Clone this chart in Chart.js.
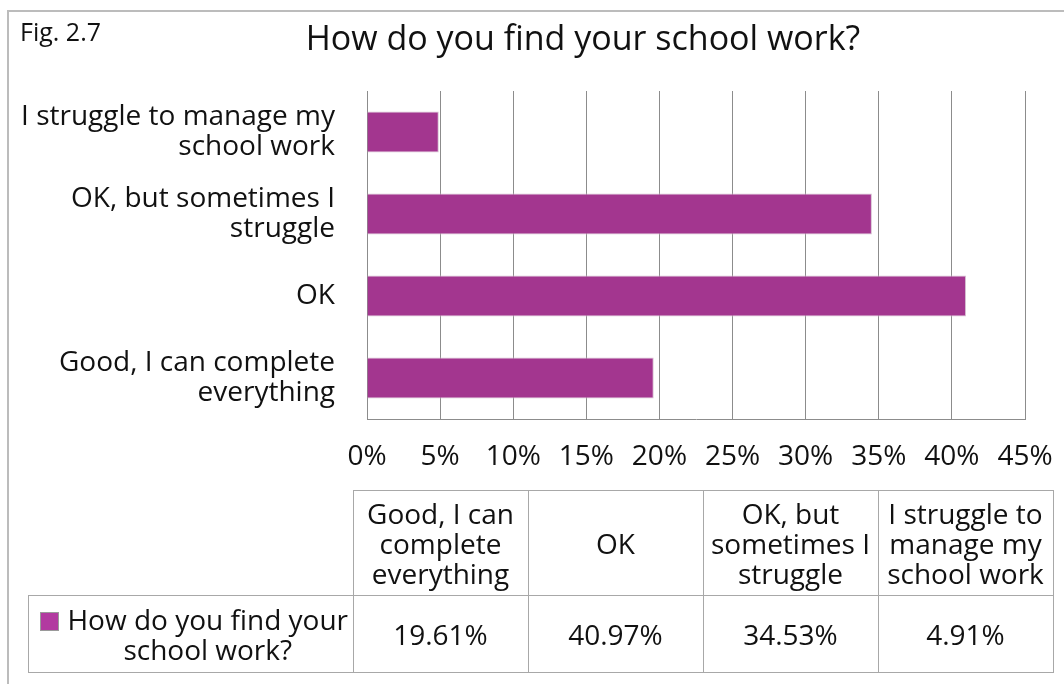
<!DOCTYPE html>
<html>
<head>
<meta charset="utf-8">
<script src="https://cdn.jsdelivr.net/npm/chart.js@4.4.1/dist/chart.umd.min.js"></script>
<style>
  html, body { margin: 0; padding: 0; background: #fff; overflow: hidden; }
  body { width: 1064px; height: 684px; position: relative; font-family: "Open Sans", "Noto Sans", sans-serif; color: #111; }
  #frame { position: absolute; left: 7px; top: 10px; width: 1100px; height: 700px; border: 2px solid #bcbcbc; box-sizing: border-box; }
  #fig { position: absolute; left: 20px; top: 14px; font-size: 25px; }
  #title { position: absolute; left: 0; width: 1166px; top: 14px; text-align: center; font-size: 34px; }
  #wrap { position: absolute; left: 0; top: 0; width: 1064px; height: 684px; }
  table { position: absolute; left: 28px; top: 490px; border-collapse: collapse; font-size: 28px; line-height: 30px; table-layout: fixed; }
  td { border: 1px solid #a8a8a8; text-align: center; padding: 0; white-space: nowrap; }
  td.blank { border: none; }
  td.name { padding-left: 34px; position: relative; }
  .sw { position: absolute; left: 11px; top: 16px; width: 17px; height: 17px; background: #b23aa0; border: 1px solid #9a9a9a; }
</style>
</head>
<body>
<div id="frame"></div>
<div id="wrap"><canvas id="chart" width="1064" height="684"></canvas></div>
<div id="fig">Fig. 2.7</div>
<div id="title">How do you find your school work?</div>
<table id="tbl"></table>
<script>
// Data (table order, bottom to top on the chart)
const categories = [
    ['Good, I can complete', 'everything'],
    ['OK'],
    ['OK, but sometimes I', 'struggle'],
    ['I struggle to manage my', 'school work']
];
const tableHeads = [
    ['Good, I can', 'complete', 'everything'],
    ['OK'],
    ['OK, but', 'sometimes I', 'struggle'],
    ['I struggle to', 'manage my', 'school work']
];
const seriesName = ['How do you find your', 'school work?'];
const values = [19.61, 40.97, 34.53, 4.91];
const xTicks = [0, 5, 10, 15, 20, 25, 30, 35, 40, 45];

const barColor = '#a3368f';

// Data table under the chart
const tbl = document.getElementById('tbl');
let head = '<tr style="height:105px"><td class="blank" style="width:324px"></td>';
tableHeads.forEach(h => { head += '<td style="width:174px">' + h.join('<br>') + '</td>'; });
head += '</tr>';
let row = '<tr style="height:77px"><td class="name"><span class="sw"></span>' + seriesName.join('<br>') + '</td>';
values.forEach(v => { row += '<td>' + v.toFixed(2) + '%</td>'; });
row += '</tr>';
tbl.innerHTML = head + row;

new Chart(document.getElementById('chart'), {
    type: 'bar',
    data: {
        labels: categories,
        datasets: [{
            label: seriesName.join(' '),
            data: values,
            backgroundColor: barColor,
            borderColor: '#d6c2d2',
            borderWidth: 1,
            barPercentage: 0.5,
            categoryPercentage: 1
        }]
    },
    options: {
        indexAxis: 'y',
        responsive: false,
        animation: false,
        layout: { padding: { top: 91, left: 0, right: 39, bottom: 185 } },
        plugins: {
            legend: { display: false },
            title: { display: false },
            tooltip: { enabled: false }
        },
        scales: {
            x: {
                min: 0,
                max: 45,
                afterBuildTicks: (axis) => { axis.ticks = xTicks.map(v => ({ value: v })); },
                afterFit: (axis) => {
                    axis.height = 80;
                    axis.paddingLeft = 0;
                    axis.paddingRight = 0;
                },
                grid: { color: '#8c8c8c', drawTicks: false },
                border: { color: '#8c8c8c' },
                ticks: {
                    color: '#111',
                    padding: 21,
                    font: { family: 'Open Sans', size: 28 },
                    callback: (v) => v + '%'
                }
            },
            y: {
                reverse: true,
                afterFit: (axis) => {
                    axis.width = 367;
                    axis.paddingTop = 0;
                    axis.paddingBottom = 0;
                },
                grid: { display: false },
                border: { color: '#8c8c8c' },
                ticks: {
                    color: '#111',
                    padding: 24,
                    font: { family: 'Open Sans', size: 28, lineHeight: '30px' }
                }
            }
        }
    }
});
</script>
</body>
</html>
